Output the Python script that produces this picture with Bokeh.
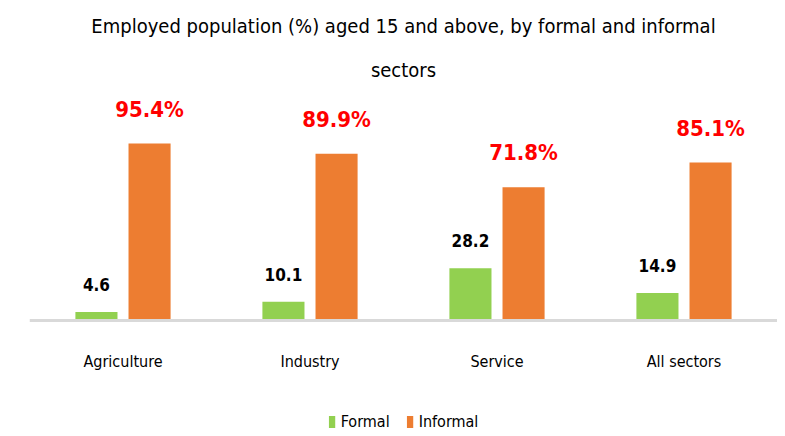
from bokeh.plotting import figure
from bokeh.models import ColumnDataSource, FactorRange, LabelSet, Legend, LegendItem, Title, Range1d, Span
from bokeh.core.properties import value
from bokeh.transform import dodge
from bokeh.embed import file_html
from bokeh.resources import INLINE

sectors = ["Agriculture", "Industry", "Service", "All sectors"]
formal = [4.6, 10.1, 28.2, 14.9]
informal = [95.4, 89.9, 71.8, 85.1]
formal_labels = ["4.6", "10.1", "28.2", "14.9"]
informal_labels = ["95.4%", "89.9%", "71.8%", "85.1%"]

FONT = "DejaVu Sans Condensed"
GREEN = "#92D050"
ORANGE = "#ED7D31"

src = ColumnDataSource(dict(sector=sectors, formal=formal, informal=informal,
                            flab=formal_labels, ilab=informal_labels,
                            base=[0] * len(sectors)))

p = figure(frame_width=748, frame_height=342,
           output_backend="svg", toolbar_location=None,
           x_range=FactorRange(factors=sectors, range_padding=0),
           y_range=Range1d(-59.8, 124.5),
           x_axis_location=None, y_axis_location=None,
           min_border_left=29, min_border_right=0, min_border_top=0, min_border_bottom=0)

p.add_layout(Title(text="sectors", align="center", text_font=FONT, text_font_size="20px",
                   text_font_style="normal", text_color="#000000", standoff=15), "above")
p.add_layout(Title(text="Employed population (%) aged 15 and above, by formal and informal",
                   align="center", text_font=FONT, text_font_size="20px",
                   text_font_style="normal", text_color="#000000", standoff=22), "above")

g = p.vbar(x=dodge("sector", -0.142, range=p.x_range), top="formal", bottom="base",
           width=0.225, source=src, fill_color=GREEN, line_color=None)
o = p.vbar(x=dodge("sector", 0.142, range=p.x_range), top="informal", bottom="base",
           width=0.225, source=src, fill_color=ORANGE, line_color=None)

# category axis: baseline and category names
p.add_layout(Span(location=0, dimension="width", line_color="#D9D9D9", line_width=3))
p.add_layout(LabelSet(x="sector", y="base", text="sector", source=src, y_offset=-46,
                      text_align="center", text_baseline="alphabetic",
                      text_font=value(FONT), text_font_size=value("16px"),
                      text_color="#000000"))

p.add_layout(LabelSet(x=dodge("sector", -0.142, range=p.x_range), y="formal", text="flab",
                      source=src, y_offset=21, text_align="center", text_baseline="alphabetic",
                      text_font=value(FONT), text_font_size=value("17px"),
                      text_font_style=value("bold"), text_color="#000000"))
p.add_layout(LabelSet(x=dodge("sector", 0.142, range=p.x_range), y="informal", text="ilab",
                      source=src, y_offset=27, text_align="center", text_baseline="alphabetic",
                      text_font=value(FONT), text_font_size=value("22px"),
                      text_font_style=value("bold"), text_color="#FF0000"))

p.xgrid.grid_line_color = None
p.ygrid.grid_line_color = None
p.outline_line_color = None

legend = Legend(items=[LegendItem(label="Formal", renderers=[g]),
                       LegendItem(label="Informal", renderers=[o])],
                orientation="horizontal", location="bottom_center",
                label_text_font=FONT, label_text_font_size="16px",
                label_text_color="#000000", glyph_width=8, glyph_height=15,
                label_standoff=5, spacing=16, border_line_color=None,
                background_fill_alpha=0, margin=0, padding=0)
p.add_layout(legend)

open("out.html", "w").write(file_html(p, INLINE))
